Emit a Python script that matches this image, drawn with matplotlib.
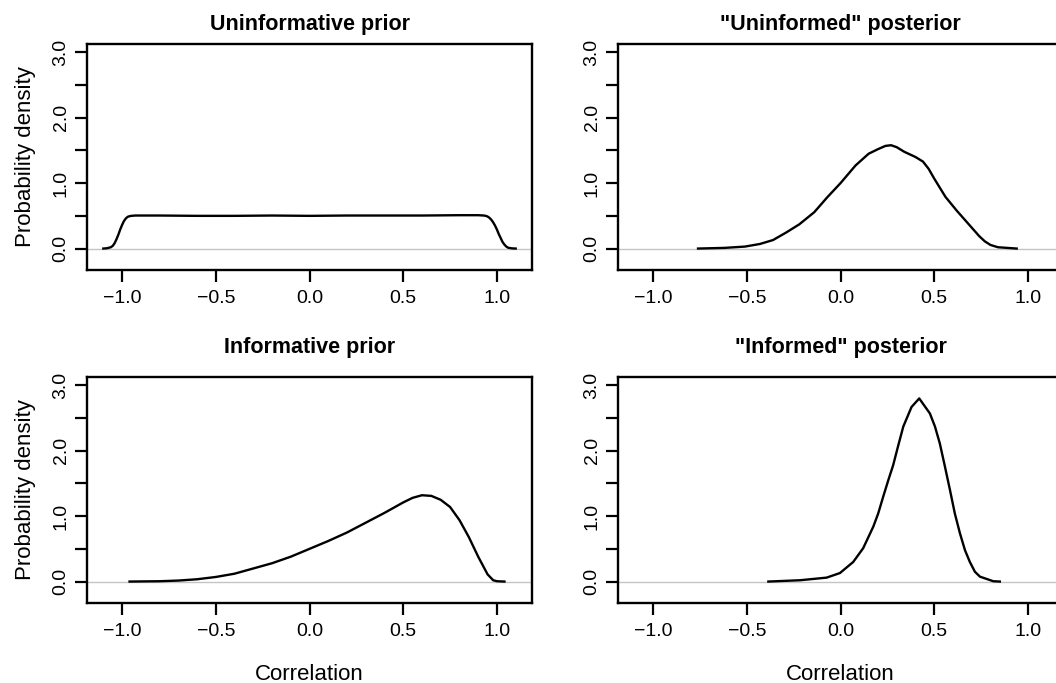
import numpy as np
import matplotlib
matplotlib.use("Agg")
import matplotlib.pyplot as plt

plt.rcParams["font.family"] = ["Liberation Sans", "DejaVu Sans"]

# values (correlation, density)
prior_flat_x = [-1.10, -1.08, -1.06, -1.05, -1.04, -1.03, -1.02, -1.01, -1.00, -0.99, -0.98, -0.97,
                -0.96, -0.95, -0.93, -0.80, -0.60, -0.40, -0.20, 0.00, 0.20, 0.40, 0.60, 0.80,
                0.90, 0.93, 0.94, 0.95, 0.96, 0.97, 0.98, 0.99, 1.00, 1.01, 1.02, 1.03, 1.04,
                1.05, 1.06, 1.08, 1.10]
prior_flat_y = [0.0, 0.005, 0.02, 0.04, 0.08, 0.14, 0.21, 0.29, 0.36, 0.42, 0.46, 0.485,
                0.495, 0.50, 0.505, 0.505, 0.50, 0.50, 0.505, 0.50, 0.505, 0.505, 0.505, 0.51,
                0.51, 0.505, 0.50, 0.49, 0.47, 0.44, 0.40, 0.35, 0.29, 0.22, 0.16, 0.10, 0.06,
                0.03, 0.012, 0.003, 0.0]

post_unif_x = [-0.76, -0.62, -0.51, -0.43, -0.36, -0.29, -0.22, -0.14, -0.07, 0.00, 0.08, 0.15,
               0.20, 0.24, 0.27, 0.30, 0.34, 0.40, 0.44, 0.47, 0.50, 0.56, 0.62, 0.66, 0.70,
               0.74, 0.77, 0.80, 0.84, 0.94]
post_unif_y = [0.0, 0.01, 0.03, 0.07, 0.13, 0.245, 0.37, 0.556, 0.786, 1.0, 1.27, 1.45,
               1.52, 1.57, 1.58, 1.55, 1.48, 1.40, 1.33, 1.22, 1.07, 0.79, 0.58, 0.45, 0.32,
               0.19, 0.11, 0.055, 0.02, 0.0]

prior_inf_x = [-0.96, -0.80, -0.70, -0.60, -0.50, -0.40, -0.30, -0.20, -0.10, 0.00, 0.10, 0.20,
               0.30, 0.40, 0.50, 0.55, 0.60, 0.65, 0.70, 0.75, 0.80, 0.85, 0.90, 0.95, 0.98,
               1.00, 1.04]
prior_inf_y = [0.0, 0.005, 0.015, 0.035, 0.07, 0.12, 0.20, 0.28, 0.38, 0.50, 0.62, 0.75,
               0.90, 1.05, 1.21, 1.28, 1.32, 1.31, 1.25, 1.14, 0.94, 0.68, 0.38, 0.11, 0.02,
               0.005, 0.0]

post_inf_x = [-0.385, -0.216, -0.074, -0.003, 0.068, 0.121, 0.175, 0.201, 0.228, 0.255, 0.281,
              0.308, 0.335, 0.379, 0.420, 0.477, 0.504, 0.530, 0.557, 0.584, 0.610, 0.637,
              0.664, 0.690, 0.717, 0.744, 0.815, 0.850]
post_inf_y = [0.0, 0.02, 0.06, 0.13, 0.30, 0.51, 0.84, 1.04, 1.30, 1.55, 1.78,
              2.08, 2.37, 2.67, 2.80, 2.57, 2.37, 2.11, 1.76, 1.40, 1.04, 0.74,
              0.48, 0.30, 0.15, 0.075, 0.005, 0.0]

titles = ["Uninformative prior", '"Uninformed" posterior',
          "Informative prior", '"Informed" posterior']
xticks = [-1.0, -0.5, 0.0, 0.5, 1.0]
yticks = [0.0, 0.5, 1.0, 1.5, 2.0, 2.5, 3.0]
ylabels = ["0.0", "", "1.0", "", "2.0", "", "3.0"]

curves = [(prior_flat_x, prior_flat_y), (post_unif_x, post_unif_y),
          (prior_inf_x, prior_inf_y), (post_inf_x, post_inf_y)]

fig = plt.figure(figsize=(10.56, 6.83), dpi=100)
W, H = 1056, 683
# axes boxes in pixels: left, top, width, height (right column runs off the page, as in the source)
boxes = [(87, 44, 445, 226), (618, 44, 445, 226),
         (87, 377, 445, 226), (618, 377, 445, 226)]

for i, (box, title, (cx, cy)) in enumerate(zip(boxes, titles, curves)):
    l, t, w, h = box
    ax = fig.add_axes([l / W, 1 - (t + h) / H, w / W, h / H])
    ax.axhline(0, color="#c4c4c4", lw=1.0, zorder=1)
    ax.plot(cx, cy, color="black", lw=1.7, zorder=2, solid_joinstyle="round")
    ax.set_xlim(-1.187, 1.187)
    ax.set_ylim(-0.328, 3.128)
    ax.set_xticks(xticks)
    ax.set_xticklabels(["\u22121.0", "\u22120.5", "0.0", "0.5", "1.0"])
    ax.set_yticks(yticks)
    ax.set_yticklabels(ylabels)
    ax.tick_params(length=8.5, width=1.6, labelsize=14, pad=6)
    ax.tick_params(axis="y", labelrotation=90, pad=4)
    for lab in ax.get_yticklabels():
        lab.set_va("center")
    for s in ax.spines.values():
        s.set_linewidth(1.7)
    ax.set_title(title, fontsize=15.5, fontweight="bold", pad=10 if i < 2 else 17)
    if i % 2 == 0:
        ax.set_ylabel("Probability density", fontsize=16, labelpad=12)
    if i >= 2:
        ax.set_xlabel("Correlation", fontsize=16, labelpad=17)

fig.savefig("out.png", dpi=100)
